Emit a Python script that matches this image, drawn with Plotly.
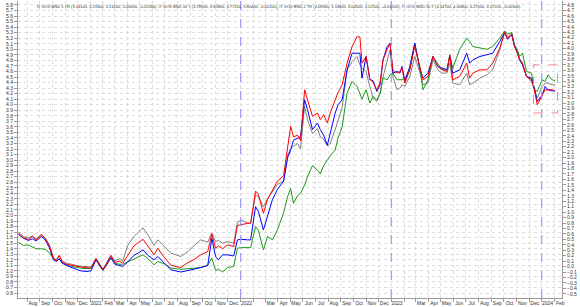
import plotly.graph_objects as go

dates = [
    "2020-07-11", "2020-07-23", "2020-08-04", "2020-08-14", "2020-08-23", "2020-09-05", "2020-09-14", "2020-09-24",
    "2020-10-04", "2020-10-11", "2020-10-18", "2020-10-25", "2020-11-04", "2020-11-16", "2020-11-28", "2020-12-10",
    "2020-12-22", "2021-01-03", "2021-01-15", "2021-01-25", "2021-02-01", "2021-02-11", "2021-02-20", "2021-03-02",
    "2021-03-12", "2021-03-21", "2021-04-02", "2021-04-17", "2021-04-29", "2021-05-09", "2021-05-21", "2021-06-05",
    "2021-06-14", "2021-06-29", "2021-07-16", "2021-08-09", "2021-08-26", "2021-09-09", "2021-09-26", "2021-10-13",
    "2021-10-23", "2021-11-01", "2021-11-08", "2021-11-18", "2021-11-30", "2021-12-15", "2021-12-24", "2022-01-03",
    "2022-01-18", "2022-01-25", "2022-02-06", "2022-02-13", "2022-02-25", "2022-03-07", "2022-03-19", "2022-03-31",
    "2022-04-15", "2022-04-25", "2022-05-02", "2022-05-09", "2022-05-19", "2022-05-26", "2022-06-05", "2022-06-12",
    "2022-06-24", "2022-07-06", "2022-07-13", "2022-07-21", "2022-07-30", "2022-08-06", "2022-08-18", "2022-08-25",
    "2022-09-04", "2022-09-16", "2022-09-28", "2022-10-10", "2022-10-17", "2022-10-22", "2022-11-01", "2022-11-10",
    "2022-11-18", "2022-11-27", "2022-12-05", "2022-12-12", "2022-12-22", "2022-12-29", "2023-01-05", "2023-01-15",
    "2023-01-22", "2023-01-27", "2023-02-03", "2023-02-15", "2023-02-27", "2023-03-12", "2023-03-19", "2023-03-31",
    "2023-04-12", "2023-04-24", "2023-05-04", "2023-05-16", "2023-05-23", "2023-05-30", "2023-06-16", "2023-07-03",
    "2023-07-10", "2023-07-18", "2023-08-04", "2023-08-21", "2023-09-04", "2023-09-21", "2023-10-03", "2023-10-10",
    "2023-10-20", "2023-10-27", "2023-11-03", "2023-11-08", "2023-11-15", "2023-11-25", "2023-12-07", "2023-12-14",
    "2023-12-21", "2024-01-02", "2024-01-09", "2024-01-16", "2024-01-26", "2024-02-02",
]

bnd_5yr = [  # red
    1.68, 1.60, 1.57, 1.62, 1.56, 1.65, 1.58, 1.45, 1.22, 1.18, 1.28, 1.16, 1.12, 1.10, 1.08, 1.07,
    1.06, 1.05, 1.22, 1.10, 1.02, 1.15, 1.28, 1.15, 1.18, 1.14, 1.28, 1.45, 1.52, 1.57, 1.45, 1.29,
    1.41, 1.25, 1.10, 1.06, 1.15, 1.20, 1.29, 1.35, 1.67, 1.41, 1.45, 1.40, 1.47, 1.44, 1.82, 1.84,
    1.86, 1.86, 2.44, 2.38, 2.04, 2.29, 2.47, 2.62, 2.72, 3.30, 3.61, 3.42, 3.45, 3.35, 4.27, 4.09,
    3.79, 3.85, 3.73, 3.82, 3.67, 3.85, 4.09, 4.22, 4.36, 4.75, 5.05, 5.23, 5.22, 4.75, 4.87, 4.46,
    4.40, 4.27, 4.40, 4.81, 5.00, 5.11, 4.63, 4.57, 4.60, 4.66, 4.39, 4.63, 5.05, 4.63, 4.45, 4.51,
    4.87, 4.69, 4.63, 4.60, 4.90, 4.45, 4.51, 4.75, 4.48, 4.57, 4.63, 4.63, 4.75, 5.02, 5.30, 5.20,
    5.27, 5.05, 4.93, 4.81, 4.75, 4.51, 4.45, 4.27, 4.00, 4.17, 4.27, 4.27, 4.27, 4.25,
]

bnd_10yr = [  # blue
    1.66, 1.59, 1.55, 1.58, 1.54, 1.62, 1.56, 1.42, 1.20, 1.17, 1.22, 1.14, 1.10, 1.06, 1.03, 1.00,
    0.99, 1.00, 1.20, 1.08, 1.01, 1.12, 1.24, 1.12, 1.10, 1.08, 1.16, 1.28, 1.33, 1.38, 1.28, 1.20,
    1.26, 1.15, 1.02, 0.98, 1.00, 1.03, 1.06, 1.10, 1.59, 1.26, 1.20, 1.29, 1.29, 1.27, 1.56, 1.57,
    1.56, 1.56, 2.16, 2.07, 1.74, 1.98, 2.29, 2.47, 2.62, 3.05, 3.18, 3.36, 3.40, 3.42, 4.09, 3.91,
    3.55, 3.67, 3.55, 3.45, 3.27, 3.48, 3.85, 4.00, 4.09, 4.63, 4.93, 4.93, 4.93, 4.48, 4.87, 4.46,
    4.43, 4.24, 4.36, 4.81, 5.05, 5.11, 4.57, 4.60, 4.57, 4.69, 4.42, 4.69, 5.11, 4.63, 4.48, 4.57,
    4.87, 4.69, 4.66, 4.63, 4.87, 4.57, 4.63, 4.93, 4.75, 4.81, 4.87, 4.90, 4.93, 5.14, 5.30, 5.18,
    5.27, 5.05, 4.93, 4.81, 4.72, 4.51, 4.48, 4.30, 4.06, 4.17, 4.33, 4.27, 4.25, 4.25,
]

bnd_2yr = [  # green
    1.52, 1.46, 1.47, 1.44, 1.40, 1.40, 1.39, 1.33, 1.22, 1.19, 1.21, 1.15, 1.11, 1.08, 1.06, 1.05,
    1.04, 1.05, 1.20, 1.10, 1.03, 1.13, 1.23, 1.14, 1.12, 1.12, 1.16, 1.22, 1.26, 1.29, 1.22, 1.11,
    1.17, 1.13, 1.05, 1.03, 1.04, 1.05, 1.06, 1.10, 1.23, 1.01, 1.03, 0.98, 1.06, 1.08, 1.41, 1.42,
    1.42, 1.42, 1.80, 1.73, 1.38, 1.62, 1.56, 1.74, 2.05, 2.35, 2.49, 2.22, 2.36, 2.40, 2.55, 2.70,
    2.90, 2.82, 2.75, 2.90, 3.00, 3.08, 3.18, 3.40, 3.60, 4.21, 4.42, 4.33, 4.20, 4.10, 4.27, 4.03,
    4.15, 4.09, 4.20, 4.48, 4.45, 4.54, 4.57, 4.45, 4.45, 4.45, 4.48, 4.63, 5.11, 4.63, 4.27, 4.45,
    4.87, 4.75, 4.63, 4.63, 4.90, 4.66, 5.00, 5.20, 5.14, 5.05, 5.02, 5.00, 5.05, 5.20, 5.33, 5.28,
    5.30, 5.08, 4.99, 4.87, 4.93, 4.60, 4.57, 4.27, 4.24, 4.45, 4.42, 4.54, 4.45, 4.43,
]

bnd_20yr = [  # gray
    1.70, 1.62, 1.60, 1.63, 1.58, 1.66, 1.60, 1.47, 1.24, 1.20, 1.28, 1.18, 1.14, 1.12, 1.10, 1.08,
    1.08, 1.07, 1.23, 1.12, 1.03, 1.16, 1.28, 1.18, 1.22, 1.18, 1.46, 1.62, 1.70, 1.78, 1.65, 1.46,
    1.56, 1.45, 1.32, 1.26, 1.35, 1.45, 1.56, 1.52, 1.68, 1.53, 1.55, 1.50, 1.53, 1.50, 1.88, 1.92,
    1.86, 1.86, 2.38, 2.34, 2.16, 2.30, 2.44, 2.56, 2.62, 3.10, 3.20, 3.25, 3.30, 3.20, 3.97, 3.73,
    3.48, 3.57, 3.42, 3.38, 3.26, 3.30, 3.55, 3.70, 3.95, 4.63, 4.78, 4.87, 4.72, 4.66, 4.60, 4.33,
    4.12, 4.06, 4.21, 4.50, 4.80, 4.99, 4.51, 4.27, 4.30, 4.36, 4.33, 4.51, 4.87, 4.57, 4.36, 4.39,
    4.81, 4.63, 4.57, 4.57, 4.75, 4.39, 4.36, 4.57, 4.36, 4.39, 4.48, 4.54, 4.63, 4.99, 5.33, 5.22,
    5.30, 5.05, 4.96, 4.84, 4.75, 4.51, 4.42, 4.27, 4.12, 4.33, 4.39, 4.39, 4.36, 4.36,
]

title_text = ("IT GOV BND 5 YR (3.16100, 3.23100, 3.13100, 3.20600, -0.01580), "
              "IT GOV BND 10 Y (3.78900, 3.85800, 3.77100, 3.80400, -0.02100), "
              "IT GOV BND 2 YR (3.08300, 3.14800, 3.04500, 3.12500, +0.01200), "
              "IT GOV BND 20 Y (4.34700, 4.40800, 4.27500, 4.37200, -0.00300)")

month_ticks = [
    "2020-08-15", "2020-09-15", "2020-10-15", "2020-11-15", "2020-12-15", "2021-01-15", "2021-02-15",
    "2021-03-15", "2021-04-15", "2021-05-15", "2021-06-15", "2021-07-15", "2021-08-15", "2021-09-15",
    "2021-10-15", "2021-11-15", "2021-12-15", "2022-01-15", "2022-03-15", "2022-04-15", "2022-05-15",
    "2022-06-15", "2022-07-15", "2022-08-15", "2022-09-15", "2022-10-15", "2022-11-15", "2022-12-15",
    "2023-01-15", "2023-03-15", "2023-04-15", "2023-05-15", "2023-06-15", "2023-07-15", "2023-08-15",
    "2023-09-15", "2023-10-15", "2023-11-15", "2023-12-15", "2024-01-15", "2024-02-15",
]
month_labels = [
    "Aug", "Sep", "Oct", "Nov", "Dec", "2021", "Feb",
    "Mar", "Apr", "May", "Jun", "Jul", "Aug", "Sep",
    "Oct", "Nov", "Dec", "2022", "Mar", "Apr", "May",
    "Jun", "Jul", "Aug", "Sep", "Oct", "Nov", "Dec",
    "2023", "Mar", "Apr", "May", "Jun", "Jul", "Aug",
    "Sep", "Oct", "Nov", "Dec", "2024", "Feb",
]
year_marks = ["2022-01-01", "2023-01-01", "2024-01-01"]
box_x = ["2023-12-12", "2024-02-08"]
box_y = [3.85, 4.72]

FONT = "Liberation Sans, Arial, sans-serif"

fig = go.Figure()
series = [
    ("IT GOV BND 20 YR", bnd_20yr, "#808080"),
    ("IT GOV BND 2 YR", bnd_2yr, "#1a9a1a"),
    ("IT GOV BND 10 YR", bnd_10yr, "#0000ff"),
    ("IT GOV BND 5 YR", bnd_5yr, "#ff0000"),
]
for name, vals, col in series:
    fig.add_trace(go.Scatter(x=dates, y=vals, mode="lines", name=name,
                             line=dict(color=col, width=1), showlegend=False))
fig.add_trace(go.Scatter(x=[dates[0]], y=[None], yaxis="y2", showlegend=False,
                         hoverinfo="skip", mode="lines"))

for d in year_marks:
    fig.add_shape(type="line", xref="x", yref="paper", x0=d, x1=d, y0=0, y1=1,
                  line=dict(color="#8c8cff", width=1, dash="dash"))
fig.add_shape(type="rect", xref="x", yref="y", x0=box_x[0], x1=box_x[1], y0=box_y[0], y1=box_y[1],
              line=dict(color="#f08c8c", width=1, dash="dash"))

fig.add_annotation(text=title_text, xref="paper", yref="paper", x=0.031, y=0.982,
                   xanchor="left", yanchor="middle", showarrow=False,
                   font=dict(family=FONT, size=4, color="#333333"))

fig.update_layout(
    width=580, height=307,
    margin=dict(l=18, r=18, t=1, b=9),
    paper_bgcolor="white", plot_bgcolor="white",
    font=dict(family=FONT, size=5, color="#333333"),
    xaxis=dict(
        type="date", range=["2020-07-10", "2024-02-19"],
        tickvals=month_ticks, ticktext=month_labels, ticks="", ticklen=0, tickangle=0,
        showgrid=False, showline=True, linecolor="#999999", zeroline=False,
        tickfont=dict(size=5),
        minor=dict(dtick="M1", tick0="2020-08-01", ticks="outside", ticklen=3, tickcolor="#999999",
                   showgrid=True, gridcolor="#dcdcdc", griddash="dot", gridwidth=1),
    ),
    yaxis=dict(
        range=[0.511, 5.872], dtick=0.1, tick0=0, tickformat=".1f",
        ticks="outside", ticklen=3, tickcolor="#999999",
        showline=True, linecolor="#999999", zeroline=False,
        showgrid=True, gridcolor="#dcdcdc", griddash="dot", gridwidth=1,
        tickfont=dict(size=5),
    ),
    yaxis2=dict(
        overlaying="y", side="right", range=[-0.576, 4.873], dtick=0.1, tick0=0, tickformat=".1f",
        ticks="outside", ticklen=3, tickcolor="#999999",
        showline=True, linecolor="#999999", zeroline=False, showgrid=False,
        tickfont=dict(size=5),
    ),
)

fig.write_html("out.html")
